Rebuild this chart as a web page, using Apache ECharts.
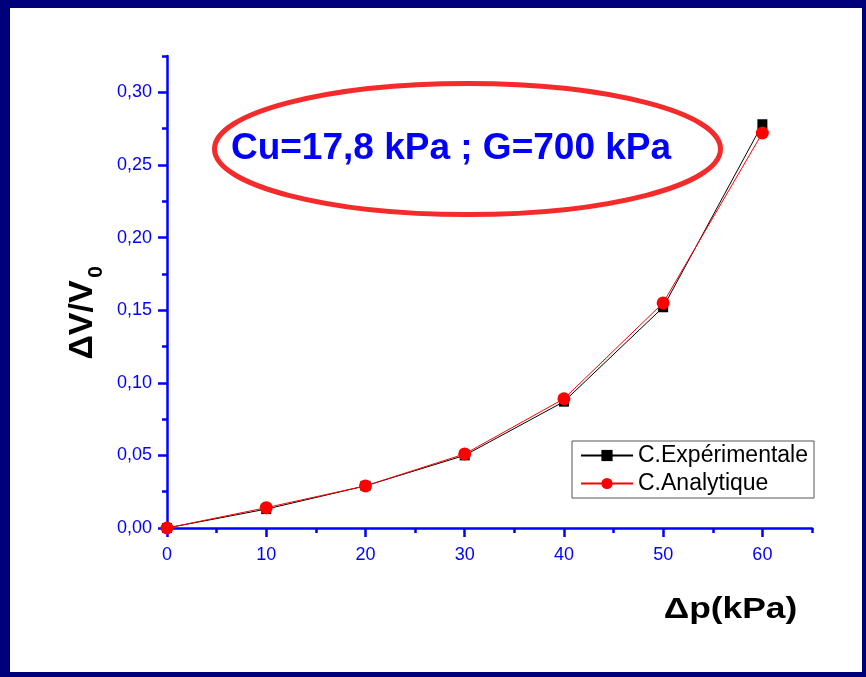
<!DOCTYPE html>
<html>
<head>
<meta charset="utf-8">
<script src="https://cdn.jsdelivr.net/npm/echarts@6/dist/echarts.min.js"></script>
<style>
html,body{margin:0;padding:0;background:#00007a;width:866px;height:677px;overflow:hidden;}
#chart{position:absolute;left:10px;top:8px;width:852px;height:664px;background:#ffffff;}
</style>
</head>
<body>
<div id="chart"></div>
<script>
const pressure = [0, 10, 20, 30, 40, 50, 60];
const experimental = [0.000, 0.013, 0.029, 0.050, 0.087, 0.152, 0.278];
const analytical = [0.000, 0.014, 0.029, 0.051, 0.089, 0.155, 0.272];
const xMajorTicks = [0, 10, 20, 30, 40, 50, 60];
const xMinorTicks = [5, 15, 25, 35, 45, 55, 65];
const yMajorTicks = [0, 0.05, 0.10, 0.15, 0.20, 0.25, 0.30];
const yMinorTicks = [0.025, 0.075, 0.125, 0.175, 0.225, 0.275, 0.325];
const seriesNames = ['C.Expérimentale', 'C.Analytique'];
const annotation = 'Cu=17,8 kPa ; G=700 kPa';
const xTitle = 'Δp(kPa)';
const yTitleMain = 'ΔV/V';
const yTitleSub = '0';

const chart = echarts.init(document.getElementById('chart'));
const blue = '#0000ff';
const font = 'Arial, "Liberation Sans", sans-serif';
const fmtY = v => v.toFixed(2).replace('.', ',');

chart.setOption({
  animation: false,
  grid: { left: 157, right: 50, top: 48, bottom: 144, containLabel: false, outerBoundsMode: 'none' },
  legend: {
    orient: 'vertical',
    left: 562, top: 433,
    itemWidth: 52, itemHeight: 14, itemGap: 5,
    padding: [3, 6, 3, 8],
    borderColor: '#555', borderWidth: 1,
    textStyle: { fontFamily: font, fontSize: 23, color: '#000' },
    data: seriesNames
  },
  xAxis: [{
    type: 'value', min: 0, max: 65, interval: 5,
    axisLine: { lineStyle: { color: blue, width: 2.5 } },
    axisTick: { customValues: xMajorTicks, length: 9, lineStyle: { color: blue, width: 2.5 } },
    axisLabel: { customValues: xMajorTicks, margin: 18, color: blue, fontSize: 18, fontFamily: font },
    splitLine: { show: false }
  }, {
    type: 'value', min: 0, max: 65, position: 'bottom',
    axisLine: { show: false },
    axisTick: { customValues: xMinorTicks, length: 5, lineStyle: { color: blue, width: 2.5 } },
    axisLabel: { show: false },
    splitLine: { show: false }
  }],
  yAxis: [{
    type: 'value', min: 0, max: 0.325, interval: 0.025,
    axisLine: { lineStyle: { color: blue, width: 2.5 } },
    axisTick: { customValues: yMajorTicks, length: 9, lineStyle: { color: blue, width: 2.5 } },
    axisLabel: { customValues: yMajorTicks, margin: 15, color: blue, fontSize: 18, fontFamily: font, formatter: fmtY },
    splitLine: { show: false }
  }, {
    type: 'value', min: 0, max: 0.325, position: 'left',
    axisLine: { show: false },
    axisTick: { customValues: yMinorTicks, length: 5, lineStyle: { color: blue, width: 2.5 } },
    axisLabel: { show: false },
    splitLine: { show: false }
  }],
  graphic: [{
    type: 'ellipse',
    shape: { cx: 457.5, cy: 141, rx: 253, ry: 65.5 },
    style: { fill: 'none', stroke: '#f52a2a', lineWidth: 5 },
    z: 1
  }, {
    type: 'text',
    x: 441, y: 141,
    style: { text: annotation, fill: blue, font: 'bold 37px ' + font, align: 'center', verticalAlign: 'middle' },
    z: 1
  }, {
    type: 'text',
    x: 720.5, y: 602, scaleX: 1.18,
    style: { text: xTitle, fill: '#000', font: 'bold 30px ' + font, align: 'center', verticalAlign: 'middle' },
    z: 1
  }, {
    type: 'text',
    x: 73, y: 312, rotation: Math.PI / 2,
    style: { text: yTitleMain, fill: '#000', font: 'bold 34px ' + font, align: 'center', verticalAlign: 'middle' },
    z: 1
  }, {
    type: 'text',
    x: 86, y: 264, rotation: Math.PI / 2,
    style: { text: yTitleSub, fill: '#000', font: 'bold 21px ' + font, align: 'center', verticalAlign: 'middle' },
    z: 1
  }],
  series: [{
    name: seriesNames[0], type: 'line',
    data: pressure.map((p, i) => [p, experimental[i]]),
    symbol: 'rect', symbolSize: 10,
    itemStyle: { color: '#000' },
    lineStyle: { color: '#000', width: 1 },
    z: 3
  }, {
    name: seriesNames[1], type: 'line',
    data: pressure.map((p, i) => [p, analytical[i]]),
    symbol: 'circle', symbolSize: 13,
    itemStyle: { color: '#ff0000' },
    lineStyle: { color: '#ff0000', width: 1 },
    z: 4
  }]
});
</script>
</body>
</html>
